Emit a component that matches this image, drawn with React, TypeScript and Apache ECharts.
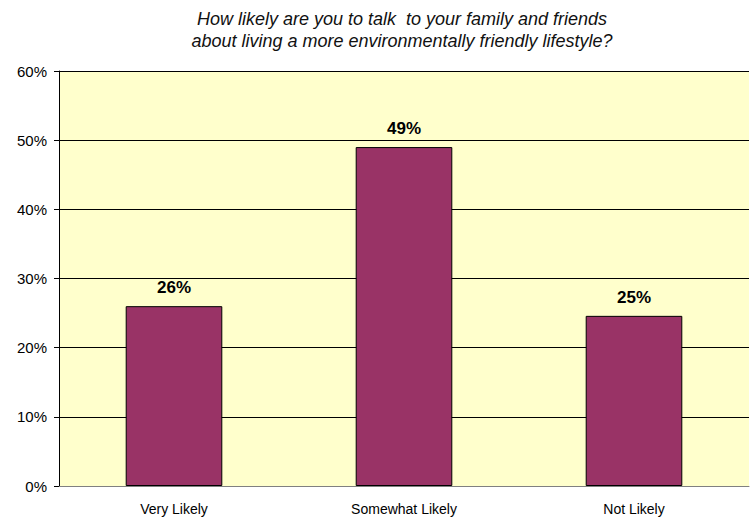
import React, { useEffect, useRef } from "react";
import * as echarts from "echarts";

const categories = ["Very Likely", "Somewhat Likely", "Not Likely"];
const values = [26, 49, 24.6];
const yTicks = [0, 10, 20, 30, 40, 50, 60];
const titleLines = [
  "How likely are you to talk  to your family and friends",
  "about living a more environmentally friendly lifestyle?",
];

export default function App() {
  const ref = useRef<HTMLDivElement>(null);
  useEffect(() => {
    if (!ref.current) return;
    const chart = echarts.init(ref.current, null, { renderer: "svg" });
    chart.setOption({
      animation: false,
      backgroundColor: "#ffffff",
      textStyle: { fontFamily: "Liberation Sans, Arial, sans-serif" },
      title: {
        text: titleLines.join("\n"),
        left: 397,
        top: 3,
        textAlign: "center",
        textStyle: {
          fontSize: 18,
          fontStyle: "italic",
          fontWeight: "normal",
          color: "#111",
          lineHeight: 22,
          fontFamily: "Liberation Sans, Arial, sans-serif",
        },
      },
      grid: {
        left: 59,
        top: 71,
        right: 1,
        bottom: 33,
        show: true,
        backgroundColor: "#ffffcc",
        borderWidth: 0,
      },
      xAxis: {
        type: "category",
        data: categories,
        axisLine: { show: true, lineStyle: { color: "#808080", width: 1 } },
        axisTick: { show: false },
        axisLabel: { fontSize: 14, color: "#000", margin: 16 },
      },
      yAxis: {
        type: "value",
        min: yTicks[0],
        max: yTicks[yTicks.length - 1],
        interval: 10,
        axisLine: { show: true, lineStyle: { color: "#000", width: 1 } },
        axisTick: { show: true, length: 5, lineStyle: { color: "#000" } },
        axisLabel: { fontSize: 15, color: "#000", margin: 12, formatter: (v: number) => v + "%" },
        splitLine: {
          show: true,
          lineStyle: { color: "#000", width: 1 },
        },
      },
      series: [
        {
          type: "bar",
          data: values,
          barWidth: "42%",
          itemStyle: { color: "#993366", borderColor: "#000", borderWidth: 1 },
          label: {
            show: true,
            position: "top",
            distance: 10,
            fontSize: 17,
            fontWeight: "bold",
            color: "#000",
            formatter: (p: any) => Math.round(p.value) + "%",
          },
        },
      ],
    });
    return () => chart.dispose();
  }, []);
  return <div ref={ref} style={{ width: 750, height: 519, position: "absolute", left: 0, top: 0 }} />;
}
